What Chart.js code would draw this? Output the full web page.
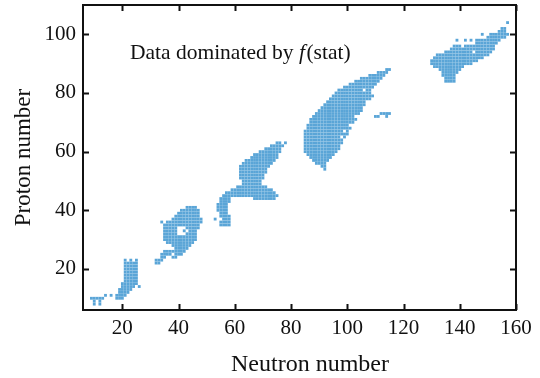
<!DOCTYPE html>
<html>
<head>
<meta charset="utf-8">
<script src="https://cdn.jsdelivr.net/npm/chart.js@4"></script>
<style>
html,body{margin:0;padding:0;background:#fff;}
#wrap{width:540px;height:378px;}
</style>
</head>
<body>
<div id="wrap"><canvas id="c" width="540" height="378"></canvas></div>
<script>
// Axis ticks
const xTicks = [20, 40, 60, 80, 100, 120, 140, 160];
const yTicks = [20, 40, 60, 80, 100];
const xTitle = 'Neutron number';
const yTitle = 'Proton number';

// Nuclide rows: [Z, N from, N to]
const rowsLight = [
  [8,10,10],[8,12,12],[9,10,10],[9,12,12],[10,9,13],[11,14,14],[11,16,16],
  [10,18,20],[11,18,21],[12,19,22],[13,19,23],[14,20,24],[14,26,26],[15,20,25],
  [16,21,25],[17,21,25],[18,21,25],[19,21,25],[20,21,25],[21,21,25],[22,21,25],
  [23,21,21],[23,23,23],[23,25,25]
];
const rowsRing = [
  [22,32,33],[23,32,34],[24,34,35],[24,38,39],[25,34,37],[25,39,41],[26,35,42],
  [27,39,43],[28,38,44],[29,36,45],[30,35,46],[31,35,46],[32,35,39],[32,43,46],
  [33,35,40],[33,42,42],[33,44,46],[34,35,39],[34,43,47],[35,35,47],[36,34,34],
  [36,36,48],[37,38,48],[38,39,47],[39,40,47],[40,41,47],[41,43,46]
];
const rowsMid = [
  [35,55,58],[36,55,58],[37,53,53],[37,56,58],[38,55,58],[39,55,57],[40,54,57],
  [41,54,57],[42,54,57],[43,55,58],[44,55,58],[44,67,74],[45,56,75],[46,57,74],
  [47,59,73],[48,61,71],[49,63,69],
  [50,63,69],[51,62,70],[52,62,70],[53,62,71],[54,62,71],[55,62,72],[56,63,73],
  [57,64,74],[58,66,75],[59,67,75],[60,69,76],[61,71,76],[62,73,77],
  [63,75,76],[63,78,78]
];
const rowsHeavy = [
  [54,92,92],[55,91,92],[56,89,92],[57,88,93],[58,87,94],[59,86,95],[60,85,96],
  [61,85,97],[62,85,97],[63,85,98],[64,85,98],[65,85,99],[66,85,100],[67,85,100],
  [68,86,101],[69,86,101],[70,87,102],[71,87,103],[72,88,103],[72,110,111],[72,114,114],
  [73,89,104],[73,112,115],[74,90,105],[75,91,105],[76,92,106],[77,93,106],
  [78,94,108],[79,95,109],[80,96,108],[81,97,108],[82,99,109],[83,101,110],
  [84,103,111],[85,105,112],[86,108,113],[87,111,114],[88,114,115]
];
const rowsActinide = [
  [84,135,138],[85,135,138],[86,134,138],[87,134,139],[88,133,140],[89,131,141],
  [90,130,144],[91,130,146],[92,131,148],[93,132,150],[94,135,151],[95,137,152],
  [96,138,140],[96,142,152],[97,146,153],[98,139,139],[98,142,142],[98,144,144],
  [98,146,154],[99,150,156],[100,148,148],[100,151,157],[101,154,156],[102,155,156],
  [104,157,157]
];
// isolated empty cells (holes): [N, Z]
const holes = [[41,34],[40,33],[41,32],[42,34],[106,81],[103,72],[101,69],[99,67],[98,65],[145,94]];

function expand(rows) {
  const pts = [];
  rows.forEach(([z, a, b]) => {
    for (let n = a; n <= b; n++) {
      if (!holes.some(h => h[0] === n && h[1] === z)) pts.push({x: n, y: z});
    }
  });
  return pts;
}

const cellColor = '#5aa5d7';
const allRows = [rowsLight, rowsRing, rowsMid, rowsHeavy, rowsActinide];
const datasets = allRows.map(r => ({
  data: expand(r),
  pointStyle: 'rect',
  pointRadius: 2,
  pointHoverRadius: 2,
  pointBorderWidth: 0,
  backgroundColor: cellColor,
  borderColor: cellColor,
  showLine: false
}));

const serif = '"Liberation Serif", "Times New Roman", serif';

const framePlugin = {
  id: 'frame',
  afterDraw(chart) {
    const {ctx, chartArea: {left, right, top, bottom}, scales: {x, y}} = chart;
    ctx.save();
    ctx.strokeStyle = '#111';
    ctx.lineWidth = 2;
    ctx.strokeRect(left, top, right - left, bottom - top);
    const tl = 6;
    ctx.beginPath();
    xTicks.forEach(v => {
      const px = Math.round(x.getPixelForValue(v)) + 0.5;
      ctx.moveTo(px, bottom); ctx.lineTo(px, bottom - tl);
      ctx.moveTo(px, top); ctx.lineTo(px, top + tl);
    });
    yTicks.forEach(v => {
      const py = Math.round(y.getPixelForValue(v)) + 0.5;
      ctx.moveTo(left, py); ctx.lineTo(left + tl, py);
      ctx.moveTo(right, py); ctx.lineTo(right - tl, py);
    });
    ctx.stroke();
    // x axis title (slightly right of centre, as in the reference)
    ctx.fillStyle = '#111';
    ctx.textBaseline = 'middle';
    ctx.textAlign = 'center';
    ctx.font = '24px ' + serif;
    ctx.fillText(xTitle, 310, 365);
    // annotation
    const ax = x.getPixelForValue(22.7);
    const ay = y.getPixelForValue(93.6);
    ctx.textAlign = 'left';
    ctx.font = '21.5px ' + serif;
    const t1 = 'Data dominated by ';
    ctx.fillText(t1, ax, ay);
    let w = ctx.measureText(t1).width;
    ctx.font = 'italic 21.5px ' + serif;
    ctx.fillText('f', ax + w, ay);
    w += ctx.measureText('f').width + 1.5;
    ctx.font = '21.5px ' + serif;
    ctx.fillText('(stat)', ax + w, ay);
    ctx.restore();
  }
};

new Chart(document.getElementById('c'), {
  type: 'scatter',
  data: { datasets },
  options: {
    responsive: false,
    animation: false,
    events: [],
    layout: { padding: { left: 0, right: 24, top: 5, bottom: 0 } },
    plugins: { legend: { display: false }, tooltip: { enabled: false } },
    scales: {
      x: {
        type: 'linear', min: 6, max: 160,
        afterBuildTicks: s => { s.ticks = xTicks.map(v => ({value: v})); },
        afterFit: s => { s.height = 68; s.paddingLeft = 0; s.paddingRight = 0; },
        grid: { display: false, drawTicks: false },
        border: { display: false },
        ticks: { color: '#111', font: { family: serif, size: 21 }, padding: 6, maxRotation: 0, autoSkip: false },
        title: { display: false }
      },
      y: {
        type: 'linear', min: 6, max: 110,
        afterBuildTicks: s => { s.ticks = yTicks.map(v => ({value: v})); },
        afterFit: s => { s.width = 83; s.paddingTop = 0; s.paddingBottom = 0; },
        grid: { display: false, drawTicks: false },
        border: { display: false },
        ticks: { color: '#111', font: { family: serif, size: 21 }, padding: 7, autoSkip: false },
        title: { display: true, text: yTitle, color: '#111', font: { family: serif, size: 23, lineHeight: 1 }, padding: { top: 12, bottom: 0 } }
      }
    }
  },
  plugins: [framePlugin]
});
</script>
</body>
</html>
